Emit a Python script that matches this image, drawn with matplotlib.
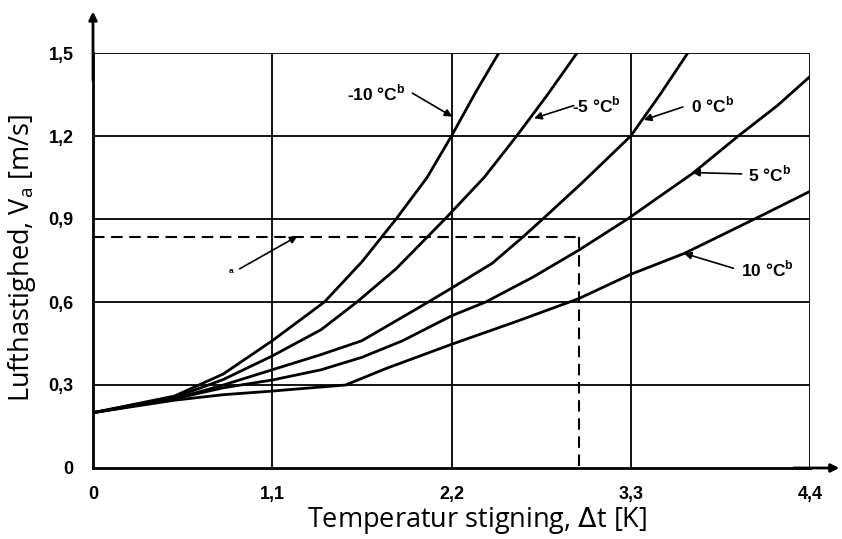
import matplotlib.pyplot as plt

# kurver aflaest fra diagrammet (x = temperaturstigning [K], y = lufthastighed [m/s])
x_m10 = [0, 0.5, 0.8, 1.1, 1.42, 1.65, 1.86, 2.05, 2.2, 2.35, 2.49]
y_m10 = [0.2, 0.26, 0.34, 0.46, 0.6, 0.745, 0.9, 1.05, 1.2, 1.36, 1.5]

x_m5 = [0, 0.5, 0.8, 1.1, 1.4, 1.62, 1.86, 2.16, 2.4, 2.6, 2.79, 2.97]
y_m5 = [0.2, 0.255, 0.32, 0.405, 0.5, 0.6, 0.72, 0.9, 1.05, 1.2, 1.35, 1.5]

x_0 = [0, 0.5, 0.8, 1.1, 1.4, 1.65, 2.0, 2.2, 2.45, 2.64, 2.76, 3.0, 3.3, 3.48, 3.65]
y_0 = [0.2, 0.25, 0.3, 0.355, 0.41, 0.46, 0.58, 0.65, 0.74, 0.836, 0.9, 1.03, 1.2, 1.35, 1.5]

x_5 = [0, 0.5, 0.8, 1.1, 1.4, 1.65, 1.9, 2.2, 2.41, 2.7, 2.98, 3.28, 3.68, 3.96, 4.2, 4.4]
y_5 = [0.2, 0.25, 0.29, 0.318, 0.355, 0.40, 0.46, 0.55, 0.6, 0.69, 0.787, 0.9, 1.065, 1.2, 1.31, 1.415]

x_10 = [0, 0.5, 0.8, 1.1, 1.3, 1.55, 1.8, 2.2, 2.6, 2.98, 3.3, 3.63, 4.06, 4.4]
y_10 = [0.2, 0.245, 0.265, 0.278, 0.288, 0.30, 0.36, 0.447, 0.53, 0.612, 0.70, 0.776, 0.9, 1.0]

kurver = [(x_m10, y_m10), (x_m5, y_m5), (x_0, y_0), (x_5, y_5), (x_10, y_10)]

# tekst, tekstposition, pilens start, pilens spids
etiketter = ["-10 °C", "-5 °C", "0 °C", "5 °C", "10 °C"]
tekst_pos = [(1.74, 1.355), (3.09, 1.31), (3.80, 1.31), (4.15, 1.063), (4.14, 0.72)]
pil_start = [(1.96, 1.355), (2.95, 1.31), (3.62, 1.305), (3.98, 1.063), (3.93, 0.722)]
pil_spids = [(2.205, 1.27), (2.707, 1.264), (3.38, 1.258), (3.677, 1.068), (3.626, 0.776)]

# eksempel: aflaest punkt
eks_v = 0.835
eks_dt = 2.98

x_ticks = [0, 1.1, 2.2, 3.3, 4.4]
x_ticklabels = ["0", "1,1", "2,2", "3,3", "4,4"]
y_ticks = [0, 0.3, 0.6, 0.9, 1.2, 1.5]
y_ticklabels = ["0", "0,3", "0,6", "0,9", "1,2", "1,5"]

smal = ["Liberation Sans", "DejaVu Sans"]
label_font = ["Open Sans", "DejaVu Sans"]

fig = plt.figure(figsize=(8.42, 5.39), dpi=100)
ax = fig.add_axes([93 / 842, 71 / 539, 717 / 842, 415 / 539])

for v in x_ticks[1:]:
    ax.axvline(v, color="k", lw=1.3, zorder=1)
for v in y_ticks[1:]:
    ax.axhline(v, color="k", lw=1.3, zorder=1)

for xs, ys in kurver:
    ax.plot(xs, ys, color="k", lw=2.0, solid_joinstyle="round", zorder=3)

ax.plot([0, eks_dt], [eks_v, eks_v], color="k", lw=1.5, dashes=(5.5, 3.2), zorder=2)
ax.plot([eks_dt, eks_dt], [eks_v, 0], color="k", lw=1.5, dashes=(5.5, 3.2), zorder=2)

pil = dict(arrowstyle="-|>", color="k", lw=1.2, mutation_scale=11, shrinkA=0, shrinkB=0)
for txt, tp, ps, sp in zip(etiketter, tekst_pos, pil_start, pil_spids):
    ax.text(tp[0], tp[1], txt + r"$^\mathregular{b}$", ha="center", va="center",
            family=smal, fontsize=12.5, fontweight="bold")
    ax.annotate("", xy=sp, xytext=ps, arrowprops=pil)

ax.text(0.85, 0.71, "a", ha="center", va="center", family=smal, fontsize=6, fontweight="bold")
ax.annotate("", xy=(1.255, 0.838), xytext=(0.9, 0.72), arrowprops=pil)

ax.set_xlim(0, 4.4)
ax.set_ylim(0, 1.5)
ax.set_xticks(x_ticks)
ax.set_xticklabels(x_ticklabels)
ax.set_yticks(y_ticks)
ax.set_yticklabels(y_ticklabels)
ax.tick_params(length=0)
ax.tick_params(axis="x", pad=13)
ax.tick_params(axis="y", pad=14)
for lab in ax.get_xticklabels() + ax.get_yticklabels():
    lab.set_family(smal)
    lab.set_fontweight("bold")
    lab.set_fontsize(13)

for s in ["top", "right"]:
    ax.spines[s].set_visible(False)
ax.spines["left"].set_linewidth(2)
ax.spines["bottom"].set_linewidth(2)

# akse-pile
akse_pil = dict(arrowstyle="-|>", color="k", lw=2, mutation_scale=12, shrinkA=0, shrinkB=0)
ax.annotate("", xy=(0, 1.65), xytext=(0, 1.4), arrowprops=akse_pil, annotation_clip=False)
ax.annotate("", xy=(4.58, 0), xytext=(4.3, 0), arrowprops=akse_pil, annotation_clip=False)

ax.set_xlabel(r"Temperatur stigning, $\Delta$t [K]", family=label_font, fontsize=19.5)
ax.set_ylabel(r"Lufthastighed, V$_\mathregular{a}$ [m/s]", family=label_font, fontsize=19.5)
ax.xaxis.set_label_coords(0.536, -0.088)
ax.yaxis.set_label_coords(-0.077, 0.506)

fig.savefig("out.png", dpi=100)
